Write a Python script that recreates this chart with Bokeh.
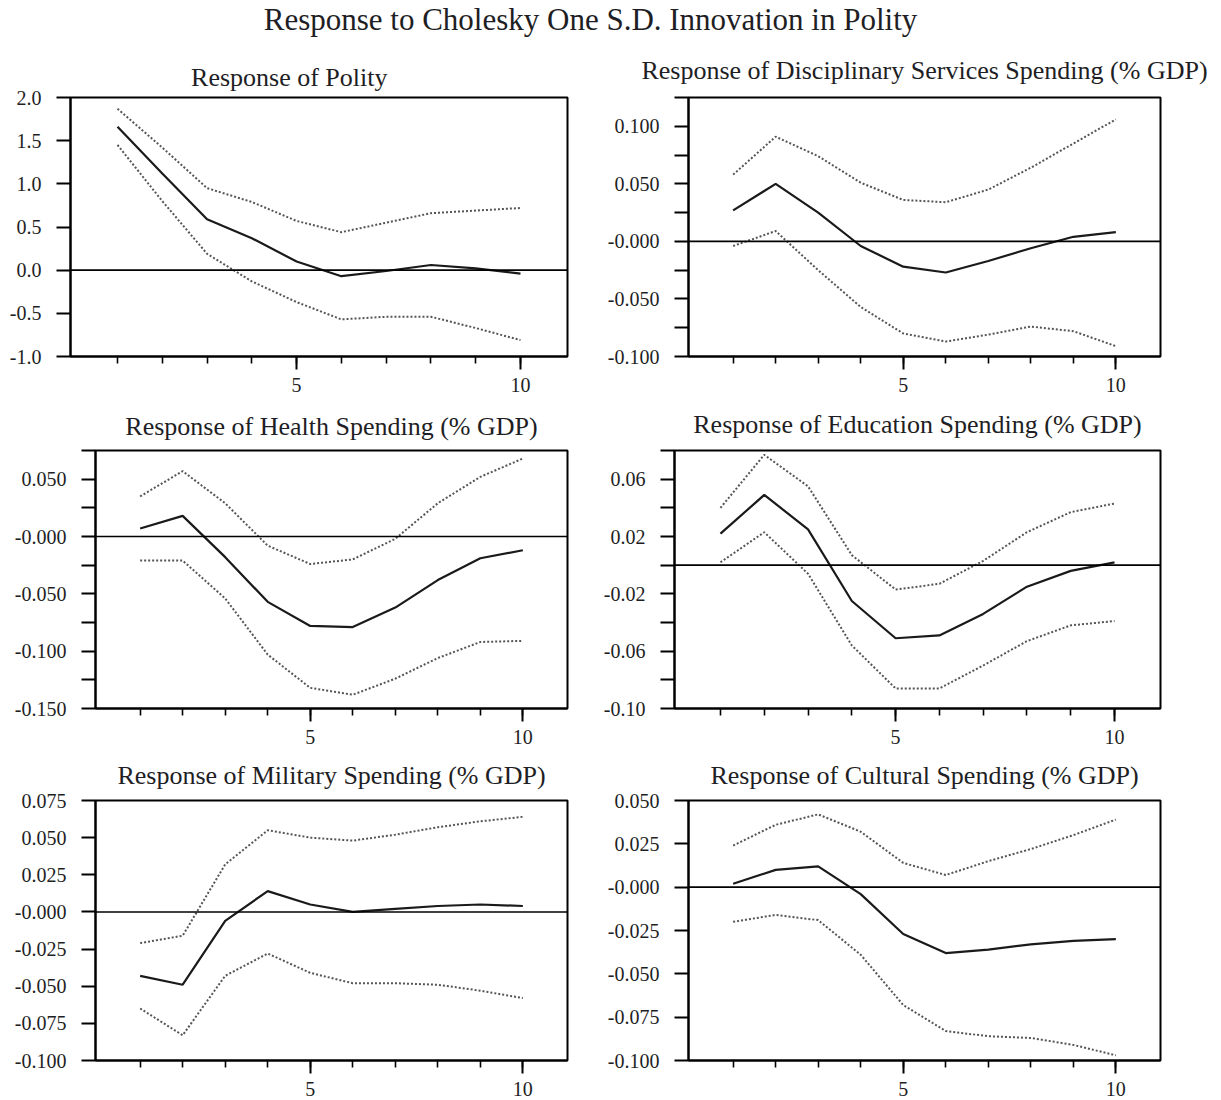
from bokeh.plotting import figure
from bokeh.models import FixedTicker, Span, CustomJSTickFormatter, Range1d, Div
from bokeh.layouts import column, row
from bokeh.embed import file_html
from bokeh.resources import INLINE

main_title = "Response to Cholesky One S.D. Innovation in Polity"
horizon = [1, 2, 3, 4, 5, 6, 7, 8, 9, 10]
x_tick_labels = ["5", "10"]
x_label_ticks = [5, 10]

# Response of Polity
polity_title = "Response of Polity"
polity_resp = [1.66, 1.12, 0.59, 0.37, 0.10, -0.07, -0.01, 0.06, 0.02, -0.04]
polity_upper = [1.87, 1.42, 0.95, 0.79, 0.57, 0.44, 0.55, 0.66, 0.69, 0.72]
polity_lower = [1.45, 0.80, 0.19, -0.13, -0.37, -0.57, -0.54, -0.54, -0.67, -0.81]
polity_ticks = [-1.0, -0.5, 0.0, 0.5, 1.0, 1.5, 2.0]
polity_labels = ["-1.0", "-0.5", "0.0", "0.5", "1.0", "1.5", "2.0"]

# Disciplinary services
disc_title = "Response of Disciplinary Services Spending (% GDP)"
disc_resp = [0.027, 0.050, 0.025, -0.004, -0.022, -0.027, -0.017, -0.006, 0.004, 0.008]
disc_upper = [0.058, 0.091, 0.074, 0.051, 0.036, 0.034, 0.045, 0.064, 0.085, 0.106]
disc_lower = [-0.004, 0.009, -0.025, -0.057, -0.080, -0.087, -0.081, -0.074, -0.078, -0.091]
disc_ticks = [-0.100, -0.050, 0.0, 0.050, 0.100]
disc_labels = ["-0.100", "-0.050", "-0.000", "0.050", "0.100"]
disc_minor = [-0.075, -0.025, 0.025, 0.075, 0.125]

# Health
health_title = "Response of Health Spending (% GDP)"
health_resp = [0.007, 0.018, -0.018, -0.057, -0.078, -0.079, -0.062, -0.038, -0.019, -0.012]
health_upper = [0.035, 0.057, 0.029, -0.008, -0.024, -0.020, -0.002, 0.029, 0.052, 0.068]
health_lower = [-0.021, -0.021, -0.054, -0.103, -0.132, -0.138, -0.124, -0.106, -0.092, -0.091]
health_ticks = [-0.150, -0.100, -0.050, 0.0, 0.050]
health_labels = ["-0.150", "-0.100", "-0.050", "-0.000", "0.050"]
health_minor = [-0.125, -0.075, -0.025, 0.025, 0.075]

# Education
edu_title = "Response of Education Spending (% GDP)"
edu_resp = [0.022, 0.049, 0.025, -0.025, -0.051, -0.049, -0.034, -0.015, -0.004, 0.002]
edu_upper = [0.040, 0.077, 0.055, 0.007, -0.017, -0.013, 0.003, 0.023, 0.037, 0.043]
edu_lower = [0.002, 0.023, -0.006, -0.056, -0.086, -0.086, -0.070, -0.053, -0.042, -0.039]
edu_ticks = [-0.10, -0.06, -0.02, 0.02, 0.06]
edu_labels = ["-0.10", "-0.06", "-0.02", "0.02", "0.06"]
edu_minor = [-0.08, -0.04, 0.0, 0.04, 0.08]

# Military
mil_title = "Response of Military Spending (% GDP)"
mil_resp = [-0.043, -0.049, -0.006, 0.014, 0.005, -0.000, 0.002, 0.004, 0.005, 0.004]
mil_upper = [-0.021, -0.016, 0.032, 0.055, 0.050, 0.048, 0.052, 0.057, 0.061, 0.064]
mil_lower = [-0.065, -0.083, -0.043, -0.028, -0.041, -0.048, -0.048, -0.049, -0.053, -0.058]
mil_ticks = [-0.100, -0.075, -0.050, -0.025, 0.0, 0.025, 0.050, 0.075]
mil_labels = ["-0.100", "-0.075", "-0.050", "-0.025", "-0.000", "0.025", "0.050", "0.075"]

# Cultural
cult_title = "Response of Cultural Spending (% GDP)"
cult_resp = [0.002, 0.010, 0.012, -0.004, -0.027, -0.038, -0.036, -0.033, -0.031, -0.030]
cult_upper = [0.024, 0.036, 0.042, 0.032, 0.014, 0.007, 0.015, 0.022, 0.030, 0.039]
cult_lower = [-0.020, -0.016, -0.019, -0.039, -0.068, -0.083, -0.086, -0.087, -0.091, -0.097]
cult_ticks = [-0.100, -0.075, -0.050, -0.025, 0.0, 0.025, 0.050]
cult_labels = ["-0.100", "-0.075", "-0.050", "-0.025", "-0.000", "0.025", "0.050"]

FONT = "Liberation Serif"
TXT = "#1e1e24"


def label_formatter(vals, labs):
    return CustomJSTickFormatter(args=dict(vals=vals, labs=labs), code="""
        let best = 0, bd = Infinity;
        for (let i = 0; i < vals.length; i++) {
            const d = Math.abs(vals[i] - tick);
            if (d < bd) { bd = d; best = i; }
        }
        return bd < 1e-6 ? labs[best] : "";
    """)


def make_panel(title, resp, upper, lower, y_range, ticks, labels, minor,
               width, height, bl, br, bt, bb, standoff, align="center", title_offset=0):
    p = figure(width=width, height=height, output_backend="svg", toolbar_location=None,
               x_range=Range1d(-0.05, 11.05), y_range=Range1d(*y_range),
               min_border_left=bl, min_border_right=br, min_border_top=bt,
               min_border_bottom=bb)
    p.title.text = title
    p.title.align = align
    p.title.offset = title_offset
    p.title.standoff = standoff
    p.title.text_font = FONT
    p.title.text_font_size = "26px"
    p.title.text_font_style = "normal"
    p.title.text_color = TXT
    p.grid.visible = False
    p.outline_line_color = "black"
    p.outline_line_width = 2
    p.background_fill_color = "white"
    p.border_fill_color = "white"

    for ax in (p.xaxis[0], p.yaxis[0]):
        ax.axis_line_width = 2
        ax.axis_line_color = "black"
        ax.major_tick_in = 0
        ax.minor_tick_in = 0
        ax.major_tick_line_width = 2
        ax.minor_tick_line_width = 1.6
        ax.major_tick_line_color = "black"
        ax.minor_tick_line_color = "black"
        ax.major_label_text_font = FONT
        ax.major_label_text_font_size = "20px"
        ax.major_label_text_color = TXT

    xa = p.xaxis[0]
    xa.major_tick_out = 13
    xa.minor_tick_out = 7
    xa.major_label_standoff = 8
    ya = p.yaxis[0]
    ya.major_tick_out = 14
    ya.minor_tick_out = 14
    ya.minor_tick_line_width = 2
    ya.major_label_standoff = 15

    p.xaxis.ticker = FixedTicker(ticks=x_label_ticks, minor_ticks=horizon)
    p.xaxis.formatter = label_formatter(x_label_ticks, x_tick_labels)
    p.yaxis.ticker = FixedTicker(ticks=ticks, minor_ticks=minor)
    p.yaxis.formatter = label_formatter(ticks, labels)

    p.add_layout(Span(location=0, dimension="width", line_color="black", line_width=1.6))
    p.line(horizon, upper, line_color="#555555", line_width=2, line_dash="2 2")
    p.line(horizon, lower, line_color="#555555", line_width=2, line_dash="2 2")
    p.line(horizon, resp, line_color="#1a1a1a", line_width=2.2)
    return p


p1 = make_panel(polity_title, polity_resp, polity_upper, polity_lower, (-1.0, 2.0),
                polity_ticks, polity_labels, [], 600, 356, 70, 33, 57, 40,
                standoff=12, align="right", title_offset=180)
p2 = make_panel(disc_title, disc_resp, disc_upper, disc_lower, (-0.100, 0.125),
                disc_ticks, disc_labels, disc_minor, 621, 356, 88, 61, 57, 40, standoff=26)
p3 = make_panel(health_title, health_resp, health_upper, health_lower, (-0.150, 0.075),
                health_ticks, health_labels, health_minor, 600, 351, 95, 33, 54, 39, standoff=20)
p4 = make_panel(edu_title, edu_resp, edu_upper, edu_lower, (-0.10, 0.08),
                edu_ticks, edu_labels, edu_minor, 621, 351, 74, 61, 54, 39, standoff=23)
p5 = make_panel(mil_title, mil_resp, mil_upper, mil_lower, (-0.100, 0.075),
                mil_ticks, mil_labels, [], 600, 351, 95, 33, 53, 38, standoff=22)
p6 = make_panel(cult_title, cult_resp, cult_upper, cult_lower, (-0.100, 0.050),
                cult_ticks, cult_labels, [], 621, 351, 88, 61, 53, 38, standoff=22)

head = Div(text=main_title, width=1181, height=40, margin=(0, 0, 0, 0),
           styles={"font-family": FONT, "font-size": "31px", "text-align": "center",
                   "color": TXT, "width": "1181px", "padding-top": "0px",
                   "line-height": "40px"})

layout = column(head, row(p1, p2), row(p3, p4), row(p5, p6))
layout.spacing = 0

open("out.html", "w").write(file_html(layout, INLINE))
